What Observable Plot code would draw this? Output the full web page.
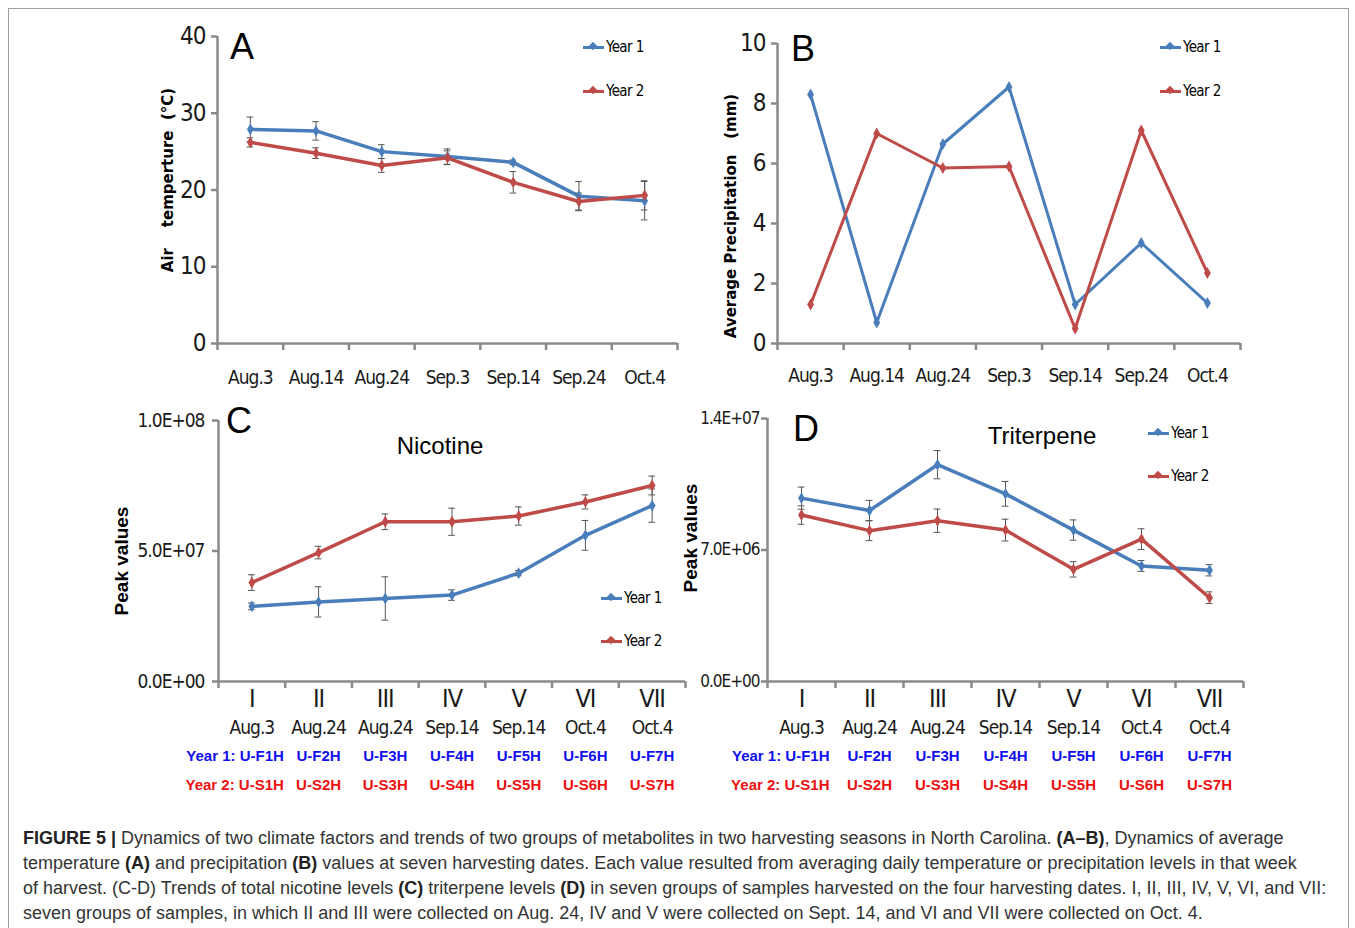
<!DOCTYPE html>
<html>
<head>
<meta charset="utf-8">
<script src="https://cdn.jsdelivr.net/npm/d3@7"></script>
<script src="https://cdn.jsdelivr.net/npm/@observablehq/plot@0.6"></script>
<style>
  html, body { margin: 0; padding: 0; background: #fff; }
  #page { position: relative; width: 1355px; height: 928px; overflow: hidden; }
  #frame { position: absolute; left: 8px; top: 8px; width: 1341px; height: 940px; border: 1px solid #a0a0a0; box-sizing: border-box; }
  .panel { position: absolute; }
  .panel svg { overflow: visible; }
  .panel g[font-family*="Condensed"] { letter-spacing: -1px; }
  .abs { position: absolute; white-space: pre; }
  .letter { font-family: "Liberation Sans", Arial, sans-serif; font-size: 36px; color: #000; }
  .title { font-family: "Liberation Sans", Arial, sans-serif; font-size: 24px; color: #000; transform: translateX(-50%); }
  .ylab { font-family: "DejaVu Sans", Verdana, sans-serif; font-weight: bold; font-size: 15px; color: #000; transform-origin: 0 0; transform: rotate(-90deg) translateX(-50%); }
  .ylab2 { font-family: "Liberation Sans", Arial, sans-serif; font-weight: bold; font-size: 19px; color: #000; transform-origin: 0 0; transform: rotate(-90deg) translateX(-50%); }
  .leg { font-family: "Liberation Sans Narrow", "DejaVu Sans Condensed", sans-serif; font-size: 15px; letter-spacing: -0.6px; color: #000; display: flex; align-items: center; transform: translateY(-50%); }
  .leg .sw { position: relative; width: 21px; height: 3px; margin-right: 2px; }
  .leg .sw i { position: absolute; left: 7px; top: -3px; width: 6px; height: 6px; transform: rotate(45deg); background: inherit; }
  #caption { position: absolute; left: 23px; top: 826px; width: 1320px; font-family: "Liberation Sans", Arial, sans-serif; font-size: 18px; line-height: 25px; color: #333; white-space: nowrap; }
  #caption b { color: #222; }
</style>
</head>
<body>
<div id="page">
  <div id="frame"></div>
</div>
<script>
// ---------- data ----------
const dates = ["Aug.3", "Aug.14", "Aug.24", "Sep.3", "Sep.14", "Sep.24", "Oct.4"];
const seriesNames = ["Year 1", "Year 2"];

const tempYear1 = [27.9, 27.7, 25.0, 24.35, 23.6, 19.2, 18.6];
const tempYear1Err = [1.6, 1.2, 0.9, 1.0, 0.3, 1.9, 2.5];
const tempYear2 = [26.2, 24.8, 23.2, 24.2, 21.0, 18.5, 19.3];
const tempYear2Err = [0.6, 0.7, 0.9, 0.9, 1.4, 1.1, 1.9];

const precipYear1 = [8.3, 0.7, 6.65, 8.55, 1.3, 3.35, 1.35];
const precipYear2 = [1.3, 7.0, 5.85, 5.9, 0.5, 7.1, 2.35];

const groups = ["I", "II", "III", "IV", "V", "VI", "VII"];
const groupDates = ["Aug.3", "Aug.24", "Aug.24", "Sep.14", "Sep.14", "Oct.4", "Oct.4"];
const year1Codes = ["U-F1H", "U-F2H", "U-F3H", "U-F4H", "U-F5H", "U-F6H", "U-F7H"];
const year2Codes = ["U-S1H", "U-S2H", "U-S3H", "U-S4H", "U-S5H", "U-S6H", "U-S7H"];

const nicYear1 = [2.88e7, 3.05e7, 3.18e7, 3.31e7, 4.15e7, 5.60e7, 6.74e7];
const nicYear1Err = [0.13e7, 0.58e7, 0.83e7, 0.2e7, 0.1e7, 0.57e7, 0.64e7];
const nicYear2 = [3.79e7, 4.94e7, 6.12e7, 6.12e7, 6.34e7, 6.88e7, 7.51e7];
const nicYear2Err = [0.3e7, 0.24e7, 0.3e7, 0.52e7, 0.35e7, 0.27e7, 0.36e7];

const triYear1 = [9.76e6, 9.10e6, 1.154e7, 9.99e6, 8.06e6, 6.15e6, 5.92e6];
const triYear1Err = [0.59e6, 0.54e6, 0.75e6, 0.66e6, 0.54e6, 0.29e6, 0.30e6];
const triYear2 = [8.86e6, 8.03e6, 8.56e6, 8.06e6, 5.97e6, 7.58e6, 4.46e6];
const triYear2Err = [0.49e6, 0.53e6, 0.62e6, 0.58e6, 0.41e6, 0.55e6, 0.31e6];

const tempTicks = [0, 10, 20, 30, 40];
const precipTicks = [0, 2, 4, 6, 8, 10];
const nicTicks = [0, 5e7, 1e8];
const triTicks = [0, 7e6, 1.4e7];

// ---------- style ----------
const BLUE = "#4a7ebb";
const RED = "#be4b48";
const AXIS = "#8a8a8a";
const NARROW = "'Liberation Sans Narrow', 'DejaVu Sans Condensed', sans-serif";
const BOLDSANS = "'Liberation Sans', Arial, sans-serif";
const page = document.getElementById("page");

function rowsOf(values, errs, name) {
  return values.map((v, i) => ({
    x: i + 0.5, i, y: v, series: name,
    lo: errs ? v - errs[i] : null, hi: errs ? v + errs[i] : null
  }));
}

function sci(d) {
  const [m, e] = d.toExponential(1).split("e");
  return m + "E" + (e[0] === "-" ? "-" : "+") + String(Math.abs(+e)).padStart(2, "0");
}

function panel(cfg) {
  const rows = [...rowsOf(cfg.y1, cfg.e1, "Year 1"), ...rowsOf(cfg.y2, cfg.e2, "Year 2")];
  const errRows = rows.filter(d => d.hi != null);
  const centers = d3.range(7).map(i => i + 0.5);
  const marks = [
    Plot.line(rows, {x: "x", y: "y", z: "series", stroke: "series", strokeWidth: cfg.lw || 3.5}),
    Plot.ruleX(errRows, {x: "x", y1: "lo", y2: "hi", stroke: "#555", strokeWidth: 1}),
    Plot.ruleY(errRows, {y: "hi", x1: d => d.x - 0.05, x2: d => d.x + 0.05, stroke: "#555", strokeWidth: 1}),
    Plot.ruleY(errRows, {y: "lo", x1: d => d.x - 0.05, x2: d => d.x + 0.05, stroke: "#555", strokeWidth: 1}),
    Plot.dot(rows, {x: "x", y: "y", fill: "series", symbol: "diamond", r: 3.6}),
    Plot.ruleX([0], {stroke: AXIS, strokeWidth: 2.5}),
    Plot.ruleY([0], {stroke: AXIS, strokeWidth: 2.5}),
    Plot.axisX({ticks: d3.range(8), tickSize: 7, stroke: AXIS, strokeWidth: 2.5, tickFormat: () => "", label: null}),
    Plot.axisX({ticks: centers, tickSize: 0, tickPadding: cfg.xPad, tickFormat: d => cfg.xLabels[Math.floor(d)],
      fontSize: cfg.xFont, fontFamily: NARROW, fill: "#1a1a1a", label: null}),
    Plot.axisY({ticks: cfg.yTicks, tickSize: 6, stroke: AXIS, strokeWidth: 2.5, tickPadding: cfg.yPad,
      tickFormat: cfg.yFormat, fontSize: cfg.yFont, fontFamily: NARROW, fill: "#1a1a1a", label: null})
  ];
  if (cfg.extraRows) {
    const g = groups.map((name, i) => ({x: i + 0.5, date: groupDates[i], c1: year1Codes[i], c2: year2Codes[i]}));
    const codeOpts = {frameAnchor: "bottom", fontSize: 15, fontWeight: "bold", fontFamily: BOLDSANS};
    marks.push(
      Plot.text(g, {x: "x", text: "date", frameAnchor: "bottom", dy: 52, fontSize: 19, fontFamily: NARROW, fill: "#1a1a1a"}),
      Plot.text(g.slice(1), {x: "x", text: "c1", dy: 79, fill: "#1010ee", ...codeOpts}),
      Plot.text(g.slice(1), {x: "x", text: "c2", dy: 108, fill: "#ee1010", ...codeOpts}),
      Plot.text(g.slice(0, 1), {x: "x", text: d => "Year 1: " + d.c1, dy: 79, dx: cfg.firstDx, textAnchor: "end", fill: "#1010ee", ...codeOpts}),
      Plot.text(g.slice(0, 1), {x: "x", text: d => "Year 2: " + d.c2, dy: 108, dx: cfg.firstDx, textAnchor: "end", fill: "#ee1010", ...codeOpts})
    );
  }
  const svg = Plot.plot({
    width: cfg.width, height: cfg.height,
    marginLeft: cfg.ml, marginRight: cfg.mr, marginTop: cfg.mt, marginBottom: cfg.mb,
    x: {domain: [0, 7], axis: null},
    y: {domain: cfg.yDomain, axis: null},
    color: {domain: seriesNames, range: [BLUE, RED]},
    style: {background: "transparent", overflow: "visible"},
    marks
  });
  const div = document.createElement("div");
  div.className = "panel";
  div.style.left = cfg.left + "px";
  div.style.top = cfg.top + "px";
  div.appendChild(svg);
  page.appendChild(div);
}

function text(cls, str, x, y) {
  const d = document.createElement("div");
  d.className = "abs " + cls;
  d.textContent = str;
  d.style.left = x + "px";
  d.style.top = y + "px";
  page.appendChild(d);
  return d;
}

function legend(x, y, color, label) {
  const d = document.createElement("div");
  d.className = "abs leg";
  d.style.left = x + "px";
  d.style.top = y + "px";
  const sw = document.createElement("span");
  sw.className = "sw";
  sw.style.background = color;
  sw.appendChild(document.createElement("i"));
  d.appendChild(sw);
  d.appendChild(document.createTextNode(label));
  page.appendChild(d);
}

// Panel A
panel({left: 100, top: 20, width: 600, height: 380, ml: 117, mr: 23, mt: 16, mb: 57,
  y1: tempYear1, e1: tempYear1Err, y2: tempYear2, e2: tempYear2Err,
  yDomain: [0, 40], yTicks: tempTicks, yFormat: d => String(d), yFont: 24, yPad: 6,
  xLabels: dates, xFont: 19, xPad: 27});
// Panel B
panel({left: 680, top: 20, width: 600, height: 380, ml: 97, mr: 40, mt: 23, mb: 57,
  y1: precipYear1, e1: null, y2: precipYear2, e2: null, lw: 3,
  yDomain: [0, 10], yTicks: precipTicks, yFormat: d => String(d), yFont: 24, yPad: 6,
  xLabels: dates, xFont: 19, xPad: 25});
// Panel C
panel({left: 100, top: 400, width: 600, height: 410, ml: 118, mr: 15, mt: 20, mb: 129,
  y1: nicYear1, e1: nicYear1Err, y2: nicYear2, e2: nicYear2Err,
  yDomain: [0, 1e8], yTicks: nicTicks, yFormat: sci, yFont: 19, yPad: 8,
  xLabels: groups, xFont: 25, xPad: 8, extraRows: true, firstDx: 32});
// Panel D
panel({left: 680, top: 400, width: 600, height: 410, ml: 87, mr: 37, mt: 18, mb: 129,
  y1: triYear1, e1: triYear1Err, y2: triYear2, e2: triYear2Err,
  yDomain: [0, 1.4e7], yTicks: triTicks, yFormat: sci, yFont: 17, yPad: 2,
  xLabels: groups, xFont: 25, xPad: 8, extraRows: true, firstDx: 28});

// panel letters and titles
text("letter", "A", 230, 26);
text("letter", "B", 791, 28);
text("letter", "C", 226, 400);
text("letter", "D", 793, 408);
text("title", "Nicotine", 440, 432);
text("title", "Triterpene", 1042, 422);

// y-axis titles
text("ylab", "Air\u00a0\u00a0\u00a0\u00a0temperture\u00a0\u00a0(°C)", 159, 180);
text("ylab", "Average Precipitation\u00a0\u00a0\u00a0(mm)", 722, 216);
text("ylab2", "Peak values", 111, 561);
text("ylab2", "Peak values", 680, 538);

// legends
legend(583, 47, BLUE, "Year 1");
legend(583, 91, RED, "Year 2");
legend(1160, 47, BLUE, "Year 1");
legend(1160, 91, RED, "Year 2");
legend(601, 598, BLUE, "Year 1");
legend(601, 641, RED, "Year 2");
legend(1148, 433, BLUE, "Year 1");
legend(1148, 476, RED, "Year 2");

// caption
const cap = document.createElement("div");
cap.id = "caption";
cap.innerHTML =
  "<b>FIGURE 5 |</b> Dynamics of two climate factors and trends of two groups of metabolites in two harvesting seasons in North Carolina. <b>(A–B)</b>, Dynamics of average<br>" +
  "temperature <b>(A)</b> and precipitation <b>(B)</b> values at seven harvesting dates. Each value resulted from averaging daily temperature or precipitation levels in that week<br>" +
  "of harvest. (C-D) Trends of total nicotine levels <b>(C)</b> triterpene levels <b>(D)</b> in seven groups of samples harvested on the four harvesting dates. I, II, III, IV, V, VI, and VII:<br>" +
  "seven groups of samples, in which II and III were collected on Aug. 24, IV and V were collected on Sept. 14, and VI and VII were collected on Oct. 4.";
page.appendChild(cap);
</script>
</body>
</html>
